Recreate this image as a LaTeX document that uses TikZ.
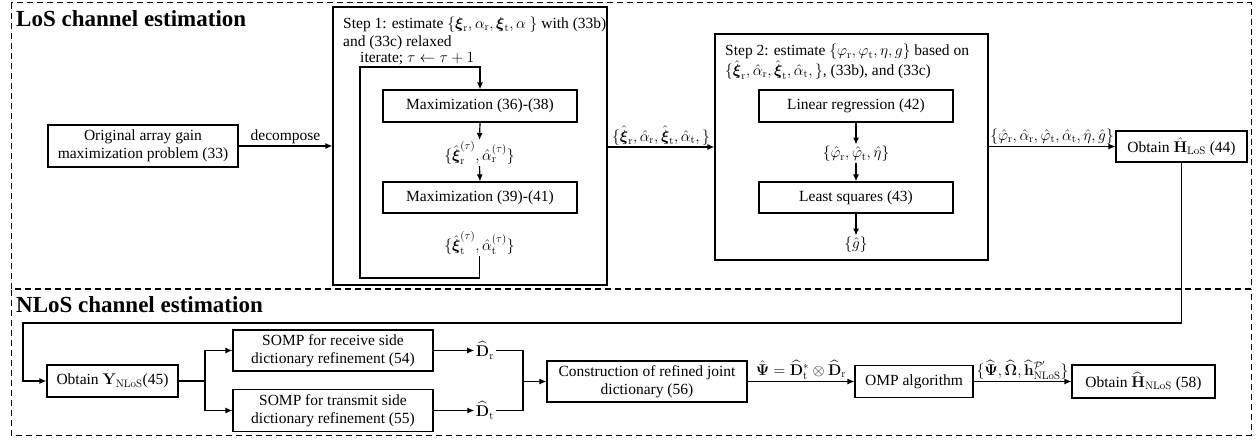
\RequirePackage{fix-cm}
\documentclass[tikz,border=0pt]{standalone}
\usepackage{amsmath,amssymb}
\usepackage[no-math]{fontspec}
\setmainfont{Liberation Serif}
\usetikzlibrary{arrows.meta,calc}
\begin{document}
\begin{tikzpicture}[x=1pt,y=-1pt,
  font=\fontsize{15.5}{18.5}\selectfont,
  box/.style={draw,line width=1.2pt,align=center,inner sep=0pt},
  lbl/.style={inner sep=1.5pt},
  arr/.style={line width=1.2pt,-{Latex[length=7pt,width=6pt]}},
  ln/.style={line width=1.2pt},
  region/.style={draw,line width=1pt,dash pattern=on 6pt off 4pt},
  title/.style={font=\fontsize{23}{27}\selectfont\bfseries,anchor=base west,inner sep=0pt},
  txt/.style={inner sep=0pt,anchor=base west,align=left},
  ptxt/.style={inner sep=0pt,anchor=north west,align=left}]
\useasboundingbox (0,0) rectangle (1258,443);

% regions
\draw[region] (11,3) rectangle (1251,289);
\draw[region] (11,290) rectangle (1251,435);
\node[title] (tlos) at (16,27) {LoS channel estimation};
\node[title] (tnlos) at (16,313) {NLoS channel estimation};

% LoS part
\node[box,minimum width=190pt,minimum height=42pt] (orig) at (143,146)
  {Original array gain\\maximization problem (33)};

\node[box,minimum width=274pt,minimum height=278pt] (s1) at (470,146) {};
\node[ptxt] (s1t) at (343,16.5)
  {Step 1: estimate $\{\boldsymbol{\xi}_\mathrm{r},\alpha_\mathrm{r},\boldsymbol{\xi}_\mathrm{t},\alpha\ \}$ with (33b)\\and (33c) relaxed};
\node[txt] (it) at (360,63) {iterate; $\tau\leftarrow\tau+1$};

\node[box,minimum width=194pt,minimum height=32pt] (m1) at (480,106) {Maximization (36)-(38)};
\node[lbl] (xr) at (479.5,153) {$\{\hat{\boldsymbol{\xi}}_\mathrm{r}^{(\tau)},\hat{\alpha}_\mathrm{r}^{(\tau)}\}$};
\node[box,minimum width=194pt,minimum height=31pt] (m2) at (480,197.5) {Maximization (39)-(41)};
\node[lbl] (xt) at (479.5,243) {$\{\hat{\boldsymbol{\xi}}_\mathrm{t}^{(\tau)},\hat{\alpha}_\mathrm{t}^{(\tau)}\}$};
\coordinate (lpBL) at (360,278);
\coordinate (lpTL) at (360,67);

\draw[arr] (m1.south) -- (xr.north);
\draw[arr] (xr.south) -- (m2.north);
\draw[arr] (xt.south) |- (lpBL) -- (lpTL) -| (m1.north);

\node[box,minimum width=273pt,minimum height=226pt] (s2) at (851.5,147) {};
\node[ptxt] (s2t) at (725,44)
  {Step 2: estimate $\{\varphi_\mathrm{r},\varphi_\mathrm{t},\eta,g\}$ based on\\
   $\{\hat{\boldsymbol{\xi}}_\mathrm{r},\hat{\alpha}_\mathrm{r},\hat{\boldsymbol{\xi}}_\mathrm{t},\hat{\alpha}_\mathrm{t},\}$, (33b), and (33c)};
\node[box,minimum width=194pt,minimum height=32pt] (lr) at (856,106) {Linear regression (42)};
\node[lbl] (ph) at (856,154) {$\{\hat{\varphi}_\mathrm{r},\hat{\varphi}_\mathrm{t},\hat{\eta}\}$};
\node[box,minimum width=194pt,minimum height=31pt] (ls) at (856,197.5) {Least squares (43)};
\node[lbl] (g) at (856,245) {$\{\hat{g}\}$};
\draw[arr] (lr.south) -- (ph.north);
\draw[arr] (ph.south) -- (ls.north);
\draw[arr] (ls.south) -- (g.north);

\node[box,minimum width=131pt,minimum height=31pt] (hl) at (1181.5,146.5) {Obtain $\hat{\mathbf{H}}_\mathrm{LoS}$ (44)};

\draw[arr] (orig.east) -- node[above,lbl] {decompose} (orig.east -| s1.west);
\draw[arr] (s1.east |- 0,147) -- node[above,lbl]
  {$\{\hat{\boldsymbol{\xi}}_\mathrm{r},\hat{\alpha}_\mathrm{r},\hat{\boldsymbol{\xi}}_\mathrm{t},\hat{\alpha}_\mathrm{t},\}$} (s2.west |- 0,147);
\draw[arr] (s2.east |- hl.west) -- node[above,lbl]
  {$\{\hat{\varphi}_\mathrm{r},\hat{\alpha}_\mathrm{r},\hat{\varphi}_\mathrm{t},\hat{\alpha}_\mathrm{t},\hat{\eta},\hat{g}\}$} (hl.west);

% NLoS part
\node[box,minimum width=131pt,minimum height=32pt] (oy) at (112.5,381) {Obtain $\mathbf{Y}_\mathrm{NLoS}$(45)};
\coordinate (c1) at (1181.5,323);
\coordinate (c2) at (23,323);
\draw[arr] (hl.south) -- (c1) -- (c2) |- (oy.west);

\node[box,minimum width=200pt,minimum height=41pt] (sr) at (333,350.5)
  {SOMP for receive side\\dictionary refinement (54)};
\node[box,minimum width=200pt,minimum height=42pt] (st) at (333,410.5)
  {SOMP for transmit side\\dictionary refinement (55)};
\coordinate (sp) at (205,381);
\draw[ln] (oy.east) -- (sp);
\draw[arr] (sp) |- (sr.west);
\draw[arr] (sp) |- (st.west);

\node[lbl] (dr) at (485,350.5) {$\widehat{\mathbf{D}}_\mathrm{r}$};
\node[lbl] (dt) at (485,410.5) {$\widehat{\mathbf{D}}_\mathrm{t}$};
\draw[arr] (sr.east) -- (dr.west);
\draw[arr] (st.east) -- (dt.west);

\node[box,minimum width=200pt,minimum height=41pt] (cj) at (647,381.5)
  {Construction of refined joint\\dictionary (56)};
\coordinate (mg) at (523,381.5);
\draw[ln] (dr.east) -| (mg) |- (dt.east);
\draw[arr] (mg) -- (cj.west);

\node[box,minimum width=118pt,minimum height=32pt] (omp) at (914,381.5) {OMP algorithm};
\node[box,minimum width=143pt,minimum height=33pt] (hn) at (1143.5,381.5) {Obtain $\widehat{\mathbf{H}}_\mathrm{NLoS}$ (58)};
\draw[arr] (cj.east) -- node[above,lbl]
  {$\hat{\boldsymbol{\Psi}}=\widehat{\mathbf{D}}_\mathrm{t}^{*}\otimes\widehat{\mathbf{D}}_\mathrm{r}$} (omp.west);
\draw[arr] (omp.east) -- node[above,lbl]
  {$\{\widehat{\boldsymbol{\Psi}},\widehat{\boldsymbol{\Omega}},\widehat{\mathbf{h}}_\mathrm{NLoS}^{\mathcal{P}'}\}$} (hn.west);
\end{tikzpicture}
\end{document}
